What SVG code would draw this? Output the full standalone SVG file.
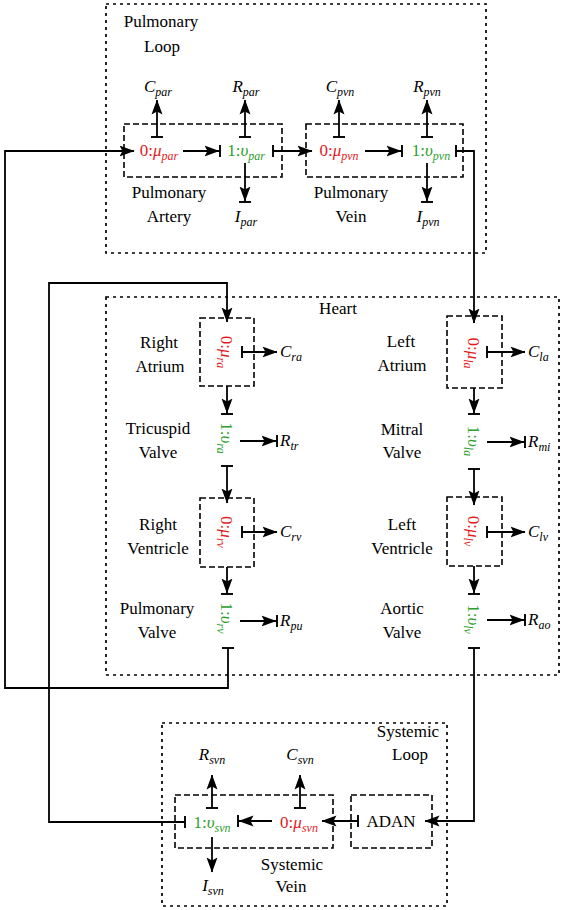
<svg xmlns="http://www.w3.org/2000/svg" width="567" height="910" viewBox="0 0 567 910" font-family="Liberation Serif, serif">
<style>
text{font-family:'Liberation Serif',serif;font-size:17px;fill:#000}
.c{text-anchor:middle}
.i{font-style:italic}
.s{font-style:italic;font-size:12px}
.red{fill:#e41a1c}
.grn{fill:#2ca02c}
.outer{fill:none;stroke:#000;stroke-width:1.7;stroke-dasharray:3 4}
.inner{fill:none;stroke:#000;stroke-width:1.6;stroke-dasharray:6 3}
.ln{fill:none;stroke:#000;stroke-width:1.8}
.a{marker-end:url(#arr)}
.ab{marker-end:url(#arrbar)}
.b{marker-start:url(#bar)}
</style>
<defs>
<marker id="arr" viewBox="0 0 15 12" refX="14.5" refY="6" markerWidth="15" markerHeight="12" markerUnits="userSpaceOnUse" orient="auto"><path d="M0,0.5 L15,6 L0,11.5 L3,6 Z" fill="#000"/></marker>
<marker id="arrbar" viewBox="0 0 17 14" refX="15.5" refY="7" markerWidth="17" markerHeight="14" markerUnits="userSpaceOnUse" orient="auto"><path d="M0,1.5 L15,7 L0,12.5 L3,7 Z" fill="#000"/><path d="M15.5,1 V13" stroke="#000" stroke-width="1.9"/></marker>
<marker id="bar" viewBox="0 0 4 14" refX="2" refY="7" markerWidth="4" markerHeight="14" markerUnits="userSpaceOnUse" orient="auto"><path d="M2,1 V13" stroke="#000" stroke-width="1.9"/></marker>
</defs>

<g id="pulmonary-loop">
<rect class="outer" x="106" y="4" width="380" height="249"/>
<text class="c" x="161" y="27">Pulmonary</text>
<text class="c" x="162" y="52">Loop</text>
</g>

<g id="pulmonary-artery">
<rect class="inner" x="124" y="124" width="158" height="53"/>
<text class="c red" x="159" y="156">0:<tspan class="i">μ</tspan><tspan class="s" dy="4">par</tspan></text>
<text class="c grn" x="246" y="156">1:<tspan class="i">υ</tspan><tspan class="s" dy="4">par</tspan></text>
<text class="c" x="169" y="198">Pulmonary</text>
<text class="c" x="169" y="222">Artery</text>
</g>
<g id="C_par"><text class="c i" x="158" y="92">C<tspan class="s" dy="4">par</tspan></text></g>
<g id="R_par"><text class="c i" x="246" y="92">R<tspan class="s" dy="4">par</tspan></text></g>
<g id="I_par"><text class="c i" x="246" y="222">I<tspan class="s" dy="4">par</tspan></text></g>

<g id="pulmonary-vein">
<rect class="inner" x="306" y="124" width="157" height="53"/>
<text class="c red" x="339" y="156">0:<tspan class="i">μ</tspan><tspan class="s" dy="4">pvn</tspan></text>
<text class="c grn" x="431" y="156">1:<tspan class="i">υ</tspan><tspan class="s" dy="4">pvn</tspan></text>
<text class="c" x="351" y="198">Pulmonary</text>
<text class="c" x="351" y="222">Vein</text>
</g>
<g id="C_pvn"><text class="c i" x="340" y="92">C<tspan class="s" dy="4">pvn</tspan></text></g>
<g id="R_pvn"><text class="c i" x="427" y="92">R<tspan class="s" dy="4">pvn</tspan></text></g>
<g id="I_pvn"><text class="c i" x="428" y="222">I<tspan class="s" dy="4">pvn</tspan></text></g>

<g id="heart">
<rect class="outer" x="106" y="297" width="453" height="378"/>
<text class="c" x="338" y="314">Heart</text>
</g>

<g id="right-atrium">
<rect class="inner" x="200" y="318" width="54" height="68"/>
<text class="c red" transform="translate(221,352) rotate(90)">0:<tspan class="i">μ</tspan><tspan class="s" dy="4">ra</tspan></text>
<text class="c" x="159" y="348">Right</text>
<text class="c" x="160" y="372">Atrium</text>
</g>
<g id="C_ra"><text class="i" x="280" y="357">C<tspan class="s" dy="4">ra</tspan></text></g>

<g id="tricuspid-valve">
<text class="c grn" transform="translate(221,438) rotate(90)">1:<tspan class="i">υ</tspan><tspan class="s" dy="4">ra</tspan></text>
<text class="c" x="158" y="434">Tricuspid</text>
<text class="c" x="158" y="458">Valve</text>
</g>
<g id="R_tr"><text class="i" x="280" y="446">R<tspan class="s" dy="4">tr</tspan></text></g>

<g id="right-ventricle">
<rect class="inner" x="200" y="498" width="54" height="69"/>
<text class="c red" transform="translate(221,532) rotate(90)">0:<tspan class="i">μ</tspan><tspan class="s" dy="4">rv</tspan></text>
<text class="c" x="158" y="530">Right</text>
<text class="c" x="158" y="554">Ventricle</text>
</g>
<g id="C_rv"><text class="i" x="280" y="537">C<tspan class="s" dy="4">rv</tspan></text></g>

<g id="pulmonary-valve">
<text class="c grn" transform="translate(221,618) rotate(90)">1:<tspan class="i">υ</tspan><tspan class="s" dy="4">rv</tspan></text>
<text class="c" x="157" y="614">Pulmonary</text>
<text class="c" x="157" y="638">Valve</text>
</g>
<g id="R_pu"><text class="i" x="280" y="626">R<tspan class="s" dy="4">pu</tspan></text></g>

<g id="left-atrium">
<rect class="inner" x="447" y="316" width="55" height="72"/>
<text class="c red" transform="translate(468,353) rotate(90)">0:<tspan class="i">μ</tspan><tspan class="s" dy="4">la</tspan></text>
<text class="c" x="401" y="347">Left</text>
<text class="c" x="402" y="371">Atrium</text>
</g>
<g id="C_la"><text class="i" x="528" y="357">C<tspan class="s" dy="4">la</tspan></text></g>

<g id="mitral-valve">
<text class="c grn" transform="translate(468,441) rotate(90)">1:<tspan class="i">υ</tspan><tspan class="s" dy="4">la</tspan></text>
<text class="c" x="402" y="435">Mitral</text>
<text class="c" x="402" y="458">Valve</text>
</g>
<g id="R_mi"><text class="i" x="528" y="447">R<tspan class="s" dy="4">mi</tspan></text></g>

<g id="left-ventricle">
<rect class="inner" x="447" y="497" width="55" height="69"/>
<text class="c red" transform="translate(468,531) rotate(90)">0:<tspan class="i">μ</tspan><tspan class="s" dy="4">lv</tspan></text>
<text class="c" x="402" y="530">Left</text>
<text class="c" x="402" y="554">Ventricle</text>
</g>
<g id="C_lv"><text class="i" x="528" y="537">C<tspan class="s" dy="4">lv</tspan></text></g>

<g id="aortic-valve">
<text class="c grn" transform="translate(468,619) rotate(90)">1:<tspan class="i">υ</tspan><tspan class="s" dy="4">lv</tspan></text>
<text class="c" x="402" y="614">Aortic</text>
<text class="c" x="402" y="638">Valve</text>
</g>
<g id="R_ao"><text class="i" x="528" y="625">R<tspan class="s" dy="4">ao</tspan></text></g>

<g id="systemic-loop">
<rect class="outer" x="162" y="723" width="285" height="183"/>
<text class="c" x="408" y="737">Systemic</text>
<text class="c" x="410" y="760">Loop</text>
</g>

<g id="adan">
<rect class="inner" x="351" y="795" width="81" height="53"/>
<text class="c" x="391" y="827">ADAN</text>
</g>

<g id="systemic-vein">
<rect class="inner" x="175" y="795" width="158" height="53"/>
<text class="c red" x="299" y="828">0:<tspan class="i">μ</tspan><tspan class="s" dy="4">svn</tspan></text>
<text class="c grn" x="212" y="828">1:<tspan class="i">υ</tspan><tspan class="s" dy="4">svn</tspan></text>
<text class="c" x="292" y="870">Systemic</text>
<text class="c" x="291" y="892">Vein</text>
</g>
<g id="C_svn"><text class="c i" x="300" y="760">C<tspan class="s" dy="4">svn</tspan></text></g>
<g id="R_svn"><text class="c i" x="212" y="760">R<tspan class="s" dy="4">svn</tspan></text></g>
<g id="I_svn"><text class="c i" x="213" y="891">I<tspan class="s" dy="4">svn</tspan></text></g>

<g id="connectors">
<path class="ln b a" d="M228,648 V688 H5 V151 H134"/>
<path class="ln ab" d="M183,151 H220"/>
<path class="ln b a" d="M273,151 H312"/>
<path class="ln b a" d="M157,137 V100"/>
<path class="ln b a" d="M245,137 V100"/>
<path class="ln ab" d="M245,163 V202"/>
<path class="ln ab" d="M365,151 H402"/>
<path class="ln b a" d="M339,137 V100"/>
<path class="ln b a" d="M427,137 V100"/>
<path class="ln ab" d="M427,163 V202"/>
<path class="ln b a" d="M456,151 H474 V323"/>
<path class="ln b a" d="M185,822 H49 V283 H227 V322"/>
<path class="ln b a" d="M242,352 H277"/>
<path class="ln ab" d="M227,386 V414"/>
<path class="ln ab" d="M240,441 H277"/>
<path class="ln b a" d="M227,466 V503"/>
<path class="ln b a" d="M242,532 H277"/>
<path class="ln ab" d="M227,567 V594"/>
<path class="ln ab" d="M240,621 H277"/>
<path class="ln b a" d="M487,352 H525"/>
<path class="ln ab" d="M474,388 V414"/>
<path class="ln ab" d="M487,442 H525"/>
<path class="ln b a" d="M474,469 V505"/>
<path class="ln b a" d="M487,532 H525"/>
<path class="ln ab" d="M474,566 V594"/>
<path class="ln ab" d="M487,620 H525"/>
<path class="ln b a" d="M474,648 V821 H425"/>
<path class="ln b a" d="M358,821 H322"/>
<path class="ln ab" d="M272,821 H238"/>
<path class="ln b a" d="M300,808 V775"/>
<path class="ln b a" d="M212,808 V775"/>
<path class="ln a" d="M212,837 V872"/>
</g>
</svg>
